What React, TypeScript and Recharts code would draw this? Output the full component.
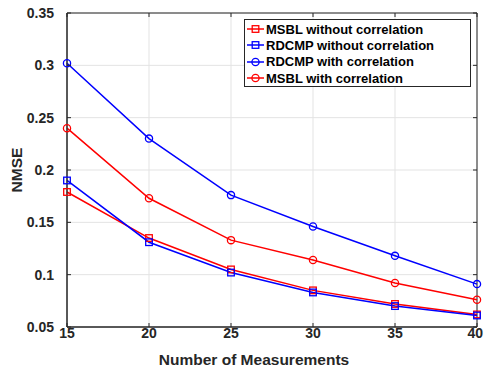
import React from "react";
import { LineChart, Line, XAxis, YAxis, CartesianGrid, Legend, ReferenceArea } from "recharts";

const measurements = [15, 20, 25, 30, 35, 40];
const msblWithout = [0.179, 0.135, 0.105, 0.085, 0.072, 0.062];
const rdcmpWithout = [0.19, 0.131, 0.102, 0.083, 0.07, 0.061];
const rdcmpWith = [0.302, 0.23, 0.176, 0.146, 0.118, 0.091];
const msblWith = [0.24, 0.173, 0.133, 0.114, 0.092, 0.076];
const yTicks = [0.05, 0.1, 0.15, 0.2, 0.25, 0.3, 0.35];
const yTickLabels = ["0.05", "0.1", "0.15", "0.2", "0.25", "0.3", "0.35"];
const xTickLabels = ["15", "20", "25", "30", "35", "40"];

const seriesNames = [
  "MSBL without correlation",
  "RDCMP without correlation",
  "RDCMP with correlation",
  "MSBL with correlation",
];
const seriesKeys = ["msblWithout", "rdcmpWithout", "rdcmpWith", "msblWith"];
const seriesColors = ["#ff0000", "#0000ff", "#0000ff", "#ff0000"];
const seriesMarkers = ["square", "square", "circle", "circle"];

const data = measurements.map((m, i) => ({
  m,
  msblWithout: msblWithout[i],
  rdcmpWithout: rdcmpWithout[i],
  rdcmpWith: rdcmpWith[i],
  msblWith: msblWith[i],
}));

const W = 476;
const H = 359;
const M = { top: 5, right: 7, left: 0, bottom: 0 };
const YW = 59;
const XH = 40;
const PLOT_TOP = M.top;
const PLOT_RIGHT = W - M.right;
const AXIS = "#262626";
const FONT = "'Liberation Sans', Arial, Helvetica, sans-serif";

const XTick = (props: any) => {
  const { x, y, index } = props;
  const last = index === xTickLabels.length - 1;
  return (
    <g>
      <line x1={x} y1={y} x2={x} y2={y - 4} stroke={AXIS} strokeWidth={1} />
      <line x1={x} y1={PLOT_TOP} x2={x} y2={PLOT_TOP + 4} stroke={AXIS} strokeWidth={1} />
      <text
        x={last ? W - 1 : x}
        y={y + 11}
        textAnchor={last ? "end" : "middle"}
        fontFamily={FONT}
        fontWeight="bold"
        fontSize={14}
        fill={AXIS}
      >
        {xTickLabels[index]}
      </text>
    </g>
  );
};

const YTick = (props: any) => {
  const { x, y, index } = props;
  return (
    <g>
      <line x1={x} y1={y} x2={x + 4} y2={y} stroke={AXIS} strokeWidth={1} />
      <line x1={PLOT_RIGHT} y1={y} x2={PLOT_RIGHT - 4} y2={y} stroke={AXIS} strokeWidth={1} />
      <text x={x - 13} y={y + 5} textAnchor="end" fontFamily={FONT} fontWeight="bold" fontSize={14} fill={AXIS}>
        {yTickLabels[index]}
      </text>
    </g>
  );
};

const Marker = ({ kind, cx, cy, color }: any) =>
  kind === "square" ? (
    <rect x={cx - 3.3} y={cy - 3.3} width={6.6} height={6.6} fill="none" stroke={color} strokeWidth={1.3} />
  ) : (
    <circle cx={cx} cy={cy} r={3.6} fill="none" stroke={color} strokeWidth={1.3} />
  );

const LegendBox = () => (
  <div
    style={{
      border: `1px solid ${AXIS}`,
      background: "#fff",
      width: 225,
      height: 65,
      boxSizing: "content-box",
      paddingTop: 1,
      fontFamily: FONT,
      fontWeight: "bold",
      fontSize: 13,
      color: "#000",
    }}
  >
    {seriesNames.map((n, i) => (
      <div key={n} style={{ display: "flex", alignItems: "center", height: 16.3, whiteSpace: "nowrap" }}>
        <svg width={20} height={14} style={{ marginLeft: 1 }}>
          <line x1={1} y1={7} x2={18} y2={7} stroke={seriesColors[i]} strokeWidth={1.5} />
          <Marker kind={seriesMarkers[i]} cx={9.5} cy={7} color={seriesColors[i]} />
        </svg>
        <span>{n}</span>
      </div>
    ))}
  </div>
);

export default function App() {
  return (
    <div style={{ width: W, height: H }}>
      <style>{`body { width: ${W}px; } #root { width: ${W}px; }`}</style>
      <LineChart width={W} height={H} data={data} margin={M} style={{ fontFamily: FONT }}>
        <CartesianGrid stroke="#e3e3e3" strokeWidth={1} />
        <XAxis
          dataKey="m"
          type="number"
          domain={[15, 40]}
          ticks={measurements}
          height={XH}
          stroke={AXIS}
          tickLine={false}
          tickSize={0}
          tickMargin={0}
          tick={<XTick />}
          interval={0}
          label={{
            content: (p: any) => {
              const vb = p.viewBox;
              return (
                <text
                  x={vb.x + vb.width / 2 - 18}
                  y={357}
                  textAnchor="middle"
                  fontFamily={FONT}
                  fontWeight="bold"
                  fontSize={15.5}
                  fill={AXIS}
                >
                  Number of Measurements
                </text>
              );
            },
          }}
        />
        <YAxis
          type="number"
          domain={[0.05, 0.35]}
          ticks={yTicks}
          width={YW}
          stroke={AXIS}
          tickLine={false}
          tickSize={0}
          tickMargin={0}
          tick={<YTick />}
          interval={0}
          label={{
            content: (p: any) => {
              const vb = p.viewBox;
              const cy = vb.y + vb.height / 2;
              return (
                <text
                  x={8}
                  y={cy}
                  transform={`rotate(-90 8 ${cy})`}
                  textAnchor="middle"
                  dominantBaseline="central"
                  fontFamily={FONT}
                  fontWeight="bold"
                  fontSize={15.5}
                  fill={AXIS}
                >
                  NMSE
                </text>
              );
            },
          }}
        />
        <ReferenceArea x1={15} x2={40} y1={0.05} y2={0.35} fill="none" stroke={AXIS} strokeWidth={1} ifOverflow="visible" />
        {seriesKeys.map((k, i) => (
          <Line
            key={k}
            dataKey={k}
            name={seriesNames[i]}
            stroke={seriesColors[i]}
            strokeWidth={1.5}
            isAnimationActive={false}
            dot={(p: any) => (
              <Marker key={`${k}-${p.index}`} kind={seriesMarkers[i]} cx={p.cx} cy={p.cy} color={seriesColors[i]} />
            )}
            activeDot={false}
          />
        ))}
        <Legend
          layout="horizontal"
          verticalAlign="middle"
          align="center"
          content={<LegendBox />}
          wrapperStyle={{ left: 236, top: 11, width: "auto", height: "auto" }}
        />
      </LineChart>
    </div>
  );
}
